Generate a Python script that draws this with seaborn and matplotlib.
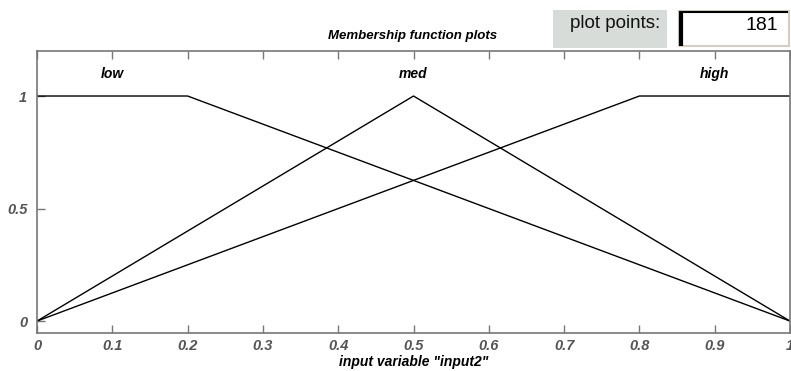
import matplotlib
matplotlib.use("Agg")
import matplotlib.pyplot as plt
import seaborn as sns
import pandas as pd
from matplotlib.patches import Rectangle
from matplotlib.lines import Line2D

sns.set_theme(style="white")
plt.rcParams['font.family'] = ['Liberation Sans', 'DejaVu Sans']

# Membership functions (breakpoints)
mf_names = ["low", "med", "high"]
low_x = [0.0, 0.2, 1.0]
low_y = [1.0, 1.0, 0.0]
med_x = [0.0, 0.5, 1.0]
med_y = [0.0, 1.0, 0.0]
high_x = [0.0, 0.8, 1.0]
high_y = [0.0, 1.0, 1.0]
label_x = [0.1, 0.5, 0.9]
label_y = 1.1
xticks = [0, 0.1, 0.2, 0.3, 0.4, 0.5, 0.6, 0.7, 0.8, 0.9, 1]
xtick_labels = ["0", "0.1", "0.2", "0.3", "0.4", "0.5", "0.6", "0.7", "0.8", "0.9", "1"]
yticks = [0, 0.5, 1]
ytick_labels = ["0", "0.5", "1"]
plot_points = "181"

df = pd.concat([
    pd.DataFrame({"x": low_x, "y": low_y, "mf": "low"}),
    pd.DataFrame({"x": med_x, "y": med_y, "mf": "med"}),
    pd.DataFrame({"x": high_x, "y": high_y, "mf": "high"}),
])

fig = plt.figure(figsize=(7.91, 3.71), dpi=100)
ax = fig.add_axes([37/791, 1-333/371, 753/791, (333-51)/371])
sns.lineplot(data=df, x="x", y="y", units="mf", estimator=None, color="black",
             linewidth=1.0, ax=ax, legend=False, sort=False)

ax.set_xlim(0, 1)
ax.set_ylim(-0.053, 1.2)
ax.set_xticks(xticks)
ax.set_xticklabels(xtick_labels, fontstyle="italic", fontweight="bold",
                   color="#555555", fontsize=10.5)
ax.set_yticks(yticks)
ax.set_yticklabels(ytick_labels, fontstyle="italic", fontweight="bold",
                   color="#555555", fontsize=10.5)
ax.tick_params(axis="both", direction="in", length=6, width=1, color="#777777",
               top=True, bottom=True, left=True, right=False, pad=4)
ax.tick_params(axis="y", pad=7)
for s in ax.spines.values():
    s.set_color("#777777")
    s.set_linewidth(1.2)
ax.set_xlabel('input variable "input2"', fontstyle="italic", fontweight="bold",
              fontsize=10, color="black", labelpad=2)
ax.set_ylabel("")

for name, lx in zip(mf_names, label_x):
    ax.text(lx, label_y, name, ha="center", va="center", fontstyle="italic",
            fontweight="bold", fontsize=10, color="black")

fig.text(413/791, 1-36/371, "Membership function plots", ha="center", va="center",
         fontstyle="italic", fontweight="bold", fontsize=9.5, color="black")

# "plot points:" control
fig.patches.append(Rectangle((553/791, 1-48/371), 114/791, 38/371,
                             transform=fig.transFigure, facecolor="#d8dcd8",
                             edgecolor="none"))
fig.text(615/791, 1-23/371, "plot points:", ha="center", va="center",
         fontsize=13.5, color="#111111")
fig.patches.append(Rectangle((679/791, 1-46/371), 110/791, 35/371,
                             transform=fig.transFigure, facecolor="white",
                             edgecolor="#d8ccc0", linewidth=1.5))
fig.lines.append(Line2D([681/791, 681/791], [1-46/371, 1-11/371],
                        transform=fig.transFigure, color="black", linewidth=3,
                        solid_capstyle="butt"))
fig.lines.append(Line2D([679/791, 788/791], [1-12/371, 1-12/371],
                        transform=fig.transFigure, color="black", linewidth=1.5,
                        solid_capstyle="butt"))
fig.text(778/791, 1-26/371, plot_points, ha="right", va="center",
         fontsize=14, color="black")

fig.savefig("out.png", dpi=100)
